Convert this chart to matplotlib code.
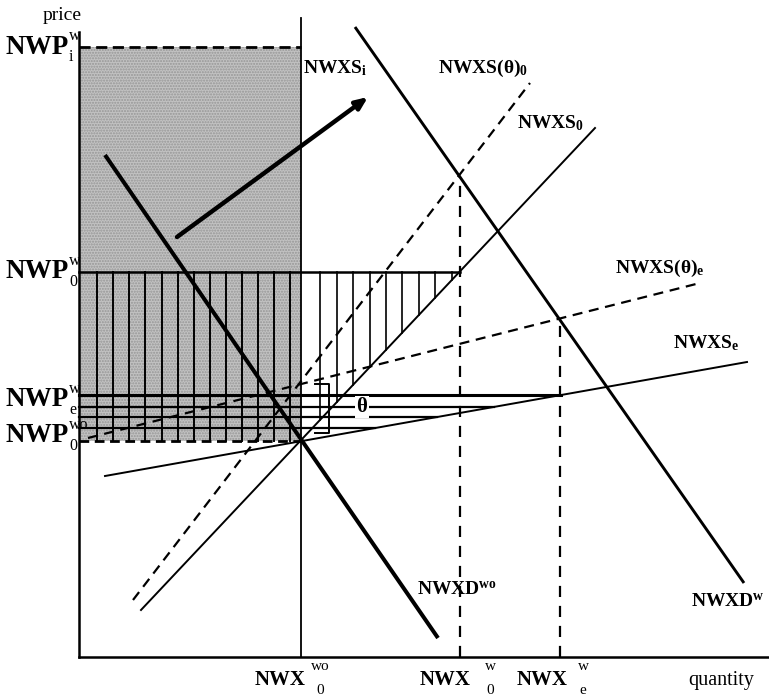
import numpy as np
import matplotlib.pyplot as plt
from matplotlib.patches import Rectangle

plt.rcParams['font.family'] = ['Liberation Serif', 'DejaVu Serif']
plt.rcParams['mathtext.fontset'] = 'custom'
plt.rcParams['mathtext.rm'] = 'Liberation Serif'
plt.rcParams['mathtext.bf'] = 'Liberation Serif:bold'
plt.rcParams['mathtext.it'] = 'Liberation Serif:italic'

# quantity / price units, origin at the corner of the axes
Q_AXIS, P_AXIS = 690, 625
Q_WO, Q_0W, Q_EW = 222, 381, 481
P_IW, P_0W, P_EW, P_0WO = 610, 385, 262, 216
P_STEPS = [250, 240, 229]
Q_TOP = 639

# curves, two end points each
nwxd_wo_q, nwxd_wo_p = [26, 359], [502, 19]
nwxd_w_q, nwxd_w_p = [276, 665], [630, 74]
nwxs_0_q, nwxs_0_p = [62, 516], [47, 529]
nwxs_t0_q, nwxs_t0_p = [54, 451], [57, 574]
nwxs_e_q, nwxs_e_p = [26, 668], [181, 295]
nwxs_te_q, nwxs_te_p = [9, 621], [219, 374]

arrow_from, arrow_to = (98, 420), (289, 560)

hatch_left = [18, 34, 50, 66, 83, 99, 115, 131, 147, 163, 179, 195, 211]
hatch_right = [241, 258, 274, 291, 307, 323, 340, 356, 373]

# price labels on the left: (base p, superscript, subscript)
price_labels = [(P_IW, 'w', 'i'), (P_0W, 'w', '0'), (257, 'w', 'e'), (221, 'wo', '0')]
# quantity labels under the axis: (left q, script q, superscript, subscript)
qty_labels = [(176, 241, 'wo', '0'), (341, 411, 'w', '0'), (438, 504, 'w', 'e')]

fig = plt.figure(figsize=(7.69, 7.0), dpi=100)
ax = fig.add_axes([0, 0, 1, 1])
ax.set_xlim(-79, 690)
ax.set_ylim(-43, 657)
ax.axis('off')

# shaded area
ax.add_patch(Rectangle((0, P_0WO), Q_WO, P_IW - P_0WO, facecolor='#c2c2c2',
                       edgecolor='#969696', hatch='......', linewidth=0, zorder=1))

# axes
ax.plot([0, 0], [0, P_AXIS], color='black', lw=1.8, zorder=5)
ax.plot([0, Q_AXIS], [0, 0], color='black', lw=1.8, zorder=5)
ax.plot([Q_WO, Q_WO], [0, Q_TOP], color='black', lw=1.3, zorder=5)

# vertical hatching
for q in hatch_left:
    ax.plot([q, q], [P_0WO, P_0W], color='black', lw=1.4, zorder=3)
for q in hatch_right:
    pe = np.interp(q, nwxs_0_q, nwxs_0_p)
    ax.plot([q, q], [pe, P_0W], color='black', lw=1.2, zorder=3)

# price levels
ax.plot([0, Q_WO], [P_IW, P_IW], color='black', lw=2.0, ls=(0, (4, 2)), zorder=4)
ax.plot([0, Q_0W], [P_0W, P_0W], color='black', lw=1.8, zorder=4)
ax.plot([0, np.interp(P_EW, nwxs_e_p, nwxs_e_q)], [P_EW, P_EW], color='black', lw=2.2, zorder=4)
for p in P_STEPS:
    ax.plot([0, np.interp(p, nwxs_e_p, nwxs_e_q)], [p, p], color='black', lw=1.6, zorder=4)
ax.plot([0, Q_WO], [P_0WO, P_0WO], color='black', lw=2.0, ls=(0, (3.5, 2)), zorder=4)

# theta bracket
ax.plot([236, 250, 250, 236], [273, 273, 224, 224], color='black', lw=1.4, zorder=4)

# curves
ax.plot(nwxd_wo_q, nwxd_wo_p, color='black', lw=2.9, zorder=6, solid_capstyle='butt')
ax.plot(nwxd_w_q, nwxd_w_p, color='black', lw=2.1, zorder=6, solid_capstyle='butt')
ax.plot(nwxs_0_q, nwxs_0_p, color='black', lw=1.4, zorder=6)
ax.plot(nwxs_e_q, nwxs_e_p, color='black', lw=1.4, zorder=6)
ax.plot(nwxs_t0_q, nwxs_t0_p, color='black', lw=1.6, ls=(0, (4.5, 3)), zorder=6)
ax.plot(nwxs_te_q, nwxs_te_p, color='black', lw=1.6, ls=(0, (4.5, 3)), zorder=6)

# dashed quantity markers
top_0w = np.interp(Q_0W, nwxd_w_q, nwxd_w_p)
top_ew = np.interp(Q_EW, nwxd_w_q, nwxd_w_p)
ax.plot([Q_0W, Q_0W], [0, top_0w], color='black', lw=1.6, ls=(0, (5, 4)), zorder=6)
ax.plot([Q_EW, Q_EW], [0, top_ew], color='black', lw=1.6, ls=(0, (5, 4)), zorder=6)

# arrow
ax.annotate('', xy=arrow_to, xytext=arrow_from, zorder=7,
            arrowprops=dict(arrowstyle='-|>,head_length=0.7,head_width=0.3',
                            color='black', lw=3.2, shrinkA=0, shrinkB=0))

# labels
fs = 14
ax.text(-17, 641, 'price', fontsize=14, ha='center', va='center')
ax.text(642, -24, 'quantity', fontsize=14.5, ha='center', va='center')

for p, sup, sub in price_labels:
    ax.text(-74, p, 'NWP', fontsize=19.5, fontweight='bold', va='center')
    ax.text(-10, p + 11, sup, fontsize=11.5, ha='left', va='center')
    ax.text(-10, p - 10, sub, fontsize=11.5, ha='left', va='center')

for q, qs, sup, sub in qty_labels:
    ax.text(q, -23, 'NWX', fontsize=15, fontweight='bold', va='center')
    ax.text(qs, -10, sup, fontsize=11, ha='center', va='center')
    ax.text(qs, -33, sub, fontsize=11, ha='center', va='center')

ax.text(224, 589, r'$\mathbf{NWXS}_{\mathbf{i}}$', fontsize=fs, va='center')
ax.text(359, 589, r'$\mathbf{NWXS(θ)}_{\mathbf{0}}$', fontsize=fs, va='center')
ax.text(438, 534, r'$\mathbf{NWXS}_{\mathbf{0}}$', fontsize=fs, va='center')
ax.text(536, 389, r'$\mathbf{NWXS(θ)}_{\mathbf{e}}$', fontsize=fs, va='center')
ax.text(594, 314, r'$\mathbf{NWXS}_{\mathbf{e}}$', fontsize=fs, va='center')
ax.text(338, 67, r'$\mathbf{NWXD}^{\mathbf{wo}}$', fontsize=fs, va='center')
ax.text(612, 55, r'$\mathbf{NWXD}^{\mathbf{w}}$', fontsize=fs, va='center')

ax.text(283, 250, 'θ', fontsize=15, fontweight='bold', ha='center', va='center', zorder=8,
        bbox=dict(facecolor='white', edgecolor='none', pad=1))

fig.savefig('out.png', dpi=100)
